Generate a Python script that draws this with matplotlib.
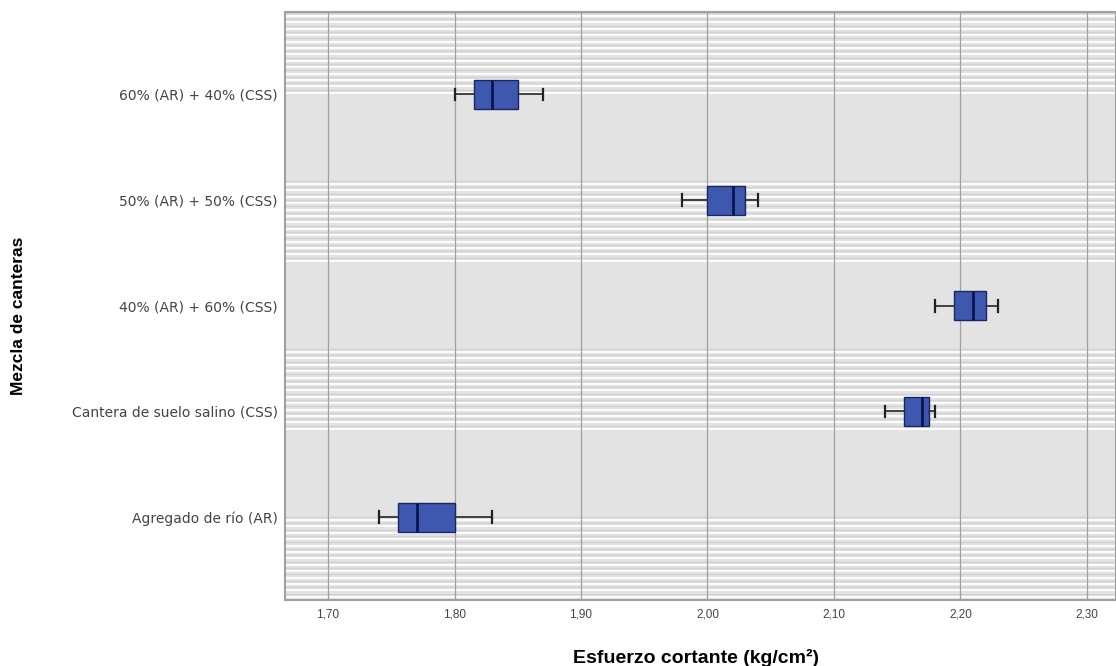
import numpy as np
import matplotlib
matplotlib.use("Agg")
import matplotlib.pyplot as plt

plt.rcParams['font.family'] = ['Liberation Sans', 'DejaVu Sans']

# categories from bottom to top
categories = ["Agregado de río (AR)", "Cantera de suelo salino (CSS)",
              "40% (AR) + 60% (CSS)", "50% (AR) + 50% (CSS)", "60% (AR) + 40% (CSS)"]
mins = [1.74, 2.14, 2.18, 1.98, 1.80]
q1s = [1.755, 2.155, 2.195, 2.00, 1.815]
meds = [1.77, 2.17, 2.21, 2.02, 1.83]
q3s = [1.80, 2.175, 2.22, 2.03, 1.85]
maxs = [1.83, 2.18, 2.23, 2.04, 1.87]
xticks = [1.70, 1.80, 1.90, 2.00, 2.10, 2.20, 2.30]

fig = plt.figure(figsize=(11.16, 6.66), dpi=100)
ax = fig.add_axes([0.255, 0.099, 0.745, 0.883])
ax.set_facecolor('#e3e3e3')

# striped background bands (alternating, 7 bands, striped at top)
nb = 7
bh = 1.0 / nb
step = 6.4 / 588.0
for b in range(nb):
    if b % 2 == 0:
        top = 1 - b * bh
        bot = top - bh
        ys = np.arange(bot + step / 2, top, step)
        ax.hlines(ys, 0, 1, transform=ax.transAxes, colors='white', lw=1.3, zorder=0.5)
        ax.hlines(ys + step / 2, 0, 1, transform=ax.transAxes, colors='#d2d2d2', lw=1.0, zorder=0.5)

stats = []
for i in range(len(categories)):
    stats.append(dict(whislo=mins[i], q1=q1s[i], med=meds[i], q3=q3s[i], whishi=maxs[i], fliers=[]))

pos = np.arange(1, len(categories) + 1)
ax.bxp(stats, positions=pos, orientation='horizontal', widths=0.275, patch_artist=True,
       boxprops=dict(facecolor='#3d58ae', edgecolor='#1a2660', lw=1.0),
       medianprops=dict(color='#0a1450', lw=2.0),
       whiskerprops=dict(color='#333333', lw=1.3),
       capprops=dict(color='#222222', lw=1.6), capwidths=0.11,
       zorder=3)

ax.set_xlim(1.6656, 2.323)
ax.set_ylim(0.215, 5.78)
ax.set_xticks(xticks)
ax.set_xticklabels([f"{t:.2f}".replace('.', ',') for t in xticks])
ax.set_yticks(pos)
ax.set_yticklabels(categories, family=['DejaVu Sans'], fontsize=10, color='#555555')
ax.grid(axis='x', color='#a0a0a0', lw=0.9, zorder=1)
ax.set_axisbelow(False)
ax.tick_params(axis='both', length=0, colors='#444444')
ax.tick_params(axis='x', pad=6, labelsize=8.5)
ax.tick_params(axis='y', pad=5)
for s in ax.spines.values():
    s.set_color('#a0a0a0')
    s.set_linewidth(1.5)

ax.set_xlabel('Esfuerzo cortante (kg/cm²)', fontsize=14, fontweight='bold', labelpad=20)
ax.set_ylabel('Mezcla de canteras', fontsize=12.5, fontweight='bold')
ax.yaxis.set_label_coords(-0.311, 0.483)
ax.xaxis.set_label_coords(0.495, -0.083)

fig.savefig('out.png', dpi=100)
